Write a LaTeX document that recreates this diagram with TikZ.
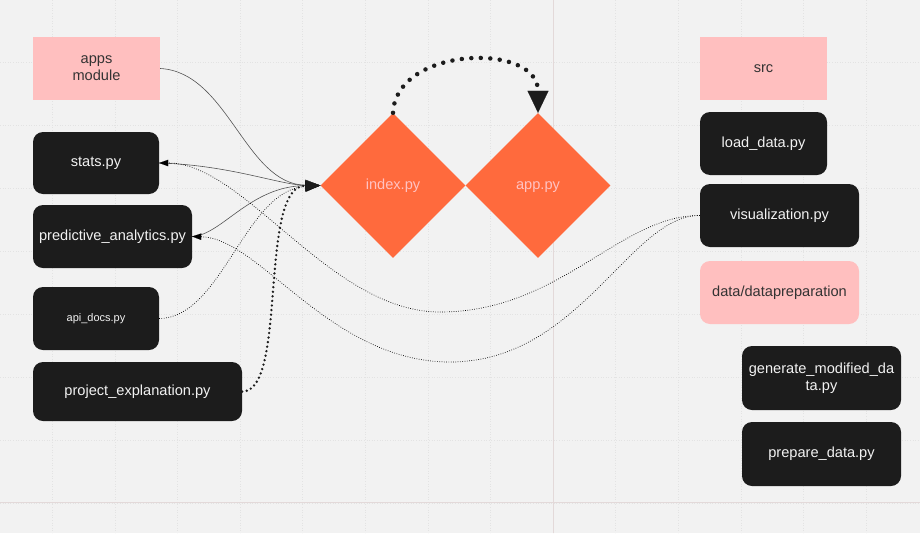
\documentclass[tikz,border=0pt]{standalone}
\usepackage{fontspec}
\setmainfont{Liberation Sans}
\usetikzlibrary{shapes.geometric,arrows.meta}
\definecolor{bg}{HTML}{F2F2F2}
\definecolor{gridc}{HTML}{E3E3E3}
\definecolor{gridmajor}{HTML}{E3D9D9}
\definecolor{boxdark}{HTML}{1C1C1C}
\definecolor{boxtext}{HTML}{F2F2F2}
\definecolor{boxpink}{HTML}{FFBFBF}
\definecolor{pinktext}{HTML}{333333}
\definecolor{orangefill}{HTML}{FF6A3D}
\definecolor{diamondtext}{HTML}{FFC2C2}
\definecolor{linegray}{HTML}{555555}

\begin{document}
\begin{tikzpicture}[x=1pt,y=-1pt,
  every node/.style={font=\fontsize{14.6}{17}\selectfont},
  darkbox/.style={fill=boxdark,text=boxtext,rounded corners=10pt,inner sep=0pt},
  pinkbox/.style={fill=boxpink,text=pinktext,inner sep=0pt},
  pyfile/.style={diamond,fill=orangefill,text=diamondtext,minimum size=145pt,inner sep=0pt,text height=10.5pt,text depth=3pt},
  gridline/.style={gridc,line width=0.5pt,dash pattern=on 0.6pt off 2pt},
  link/.style={draw=linegray,line width=0.6pt},
  thinlink/.style={draw=black,line width=0.7pt,dash pattern=on 0.7pt off 1.6pt},
  bigdots/.style={draw=boxdark,line width=4.5pt,line cap=round,dash pattern=on 0pt off 9.5pt},
  dots/.style={draw=boxdark,line width=2.6pt,line cap=round,dash pattern=on 0pt off 4.6pt},
  intotip/.style={-{Triangle[length=15pt,width=11pt,line width=0.1pt]}},
  backtip/.style={-{Triangle[length=9pt,width=6.5pt,line width=0.1pt]}}]
\useasboundingbox (0,0) rectangle (920,533);
\fill[bg] (0,0) rectangle (920,533);
% grid
\foreach \i in {0,...,13} \draw[gridline] ({52.2+62.6*\i},0) -- ++(0,533);
\foreach \i in {0,...,7} \draw[gridline] (0,{62+63*\i}) -- ++(920,0);
\draw[gridmajor,line width=0.8pt] (553,0) -- (553,533);
\draw[gridmajor,line width=0.8pt] (0,502) -- (920,502);

% apps module
\node[pinkbox,minimum width=127pt,minimum height=63pt,align=center] (apps) at (96.5,68.5) {apps\\module};
\node[darkbox,minimum width=126pt,minimum height=62pt] (stats) at (96,163) {stats.py};
\node[darkbox,minimum width=159pt,minimum height=63pt] (predictive) at (112.5,236.5) {predictive\_analytics.py};
\node[darkbox,minimum width=126pt,minimum height=63pt,font=\fontsize{11}{13}\selectfont] (apidocs) at (96,318.5) {api\_docs.py};
\node[darkbox,minimum width=209pt,minimum height=59pt] (project) at (137.5,391.5) {project\_explanation.py};

% entry points
\node[pyfile] (index) at (393,185.5) {index.py};
\node[pyfile] (app) at (538,185.5) {app.py};

% src
\node[pinkbox,minimum width=127pt,minimum height=63pt] (src) at (763.5,68.5) {src};
\node[darkbox,minimum width=127pt,minimum height=63pt] (loaddata) at (763.5,143.5) {load\_data.py};
\node[darkbox,minimum width=159pt,minimum height=63pt] (vis) at (779.5,215.5) {visualization.py};
\node[pinkbox,rounded corners=10pt,minimum width=159pt,minimum height=63pt] (datap) at (779.5,292.5) {data/datapreparation};
\node[darkbox,minimum width=159pt,minimum height=64pt,align=center] (generate) at (821.5,378) {generate\_modified\_da\\ta.py};
\node[darkbox,minimum width=159pt,minimum height=64pt] (prepare) at (821.5,454) {prepare\_data.py};

% connectors into index.py
\draw[link,intotip] (apps.east) .. controls (228,72) and (245,184) .. (index.west);
\draw[link,intotip] (stats.east) .. controls (230,165) and (280,185) .. (index.west);
\draw[link,intotip] (predictive.east) .. controls (222,235) and (250,186) .. (index.west);
\draw[thinlink,intotip] (apidocs.east) .. controls (222,318) and (245,190) .. (index.west);
\draw[dots,intotip] (project.east) .. controls (288,392) and (258,186) .. (index.west);
\draw[bigdots,-{Triangle[length=22pt,width=21pt,line width=0.1pt]}] (index.north) .. controls (396,46) and (538,42) .. (app.north);

% visualization.py back to the modules
\draw[thinlink,backtip] (vis.west) .. controls (620,215) and (560,312) .. (440,312) .. controls (330,312) and (245,163) .. (stats.east);
\draw[thinlink,backtip] (vis.west) .. controls (630,215) and (580,362) .. (450,362) .. controls (330,362) and (260,238) .. (predictive.east);
\end{tikzpicture}
\end{document}
